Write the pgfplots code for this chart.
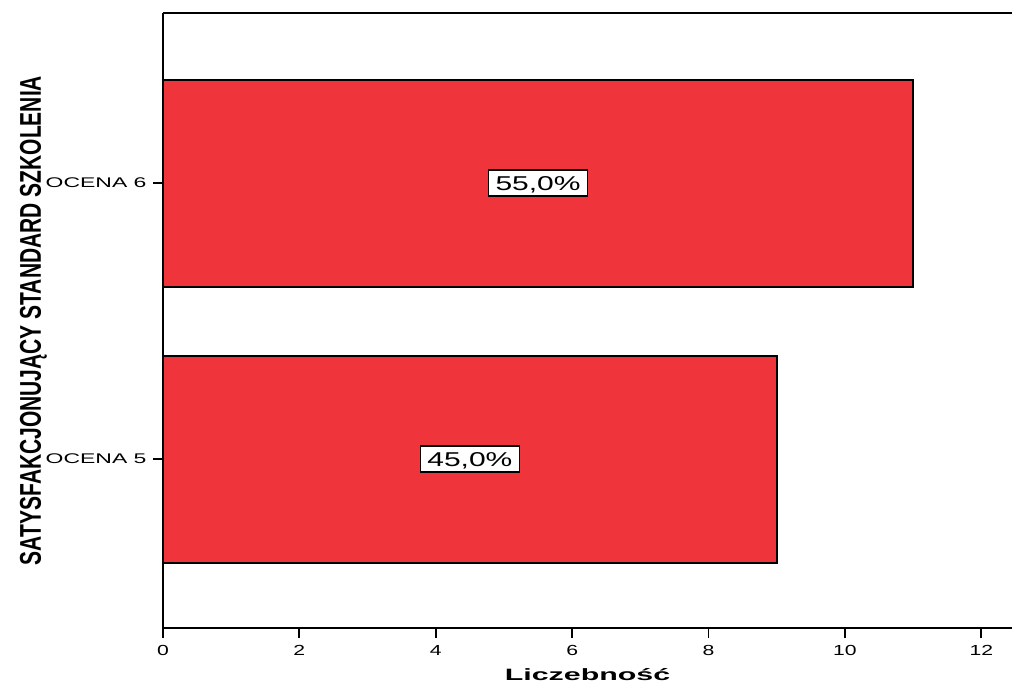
\documentclass[border=0pt]{standalone}
\usepackage{pgfplots}
\pgfplotsset{compat=1.18}
\usepackage{fontspec}
\setmainfont{Liberation Sans}
\newfontfamily\narrowfont[FakeStretch=0.7]{Liberation Sans}
\newfontfamily\tickfont[FakeStretch=1.45]{Liberation Sans}
\newfontfamily\ytickfont[FakeStretch=1.64]{Liberation Sans}
\newfontfamily\xlabfont[FakeStretch=1.85]{Liberation Sans}
\newfontfamily\pctfont[FakeStretch=1.5]{Liberation Sans}
\definecolor{barred}{RGB}{240,52,60}
\begin{document}
\begin{tikzpicture}
\begin{axis}[
  name=ax,
  scale only axis,
  width=424.5pt, height=307.5pt,
  xmin=0, xmax=12.45,
  ymin=-0.612, ymax=1.616,
  axis x line*=bottom, axis y line*=left,
  axis line style={line width=1pt, -},
  xtick={0,2,4,6,8,10,12},
  ytick={0,1},
  yticklabels={OCENA 5, OCENA 6},
  tick align=outside,
  tick style={line width=0.9pt, black},
  major tick length=5pt,
  /pgf/number format/assume math mode=true,
  xticklabel style={font=\tickfont\fontsize{7.3}{9}\selectfont},
  yticklabel style={font=\ytickfont\fontsize{7}{8}\selectfont, xshift=0.3pt},
  xlabel={\xlabfont\bfseries Liczebność},
  xlabel style={font=\fontsize{8.2}{10}\selectfont, yshift=0.5pt},
  ylabel={\narrowfont\bfseries SATYSFAKCJONUJĄCY STANDARD SZKOLENIA},
  ylabel style={font=\fontsize{15}{16}\selectfont, yshift=-7.5pt},
  clip=false,
]
\addplot[xbar, bar width=0.75, fill=barred, draw=black, line width=1pt]
  coordinates {(9,0) (11,1)};
\addplot[draw=none, mark=none, nodes near coords, point meta=explicit symbolic,
  nodes near coords style={anchor=center, fill=white, draw=black, line width=0.8pt,
    font=\pctfont\fontsize{10}{11}\selectfont, inner xsep=3.5pt, inner ysep=3pt,
    text height=7.2pt, text depth=0pt}]
  coordinates {(4.5,0) [45,0\%] (5.5,1) [55,0\%]};
\draw[line width=1pt] (rel axis cs:0,1) -- (rel axis cs:1,1);
\end{axis}
\pgfresetboundingbox
\path[use as bounding box] ([shift={(-81.5pt,-28.5pt)}]ax.south west) rectangle ([shift={(0pt,6.5pt)}]ax.north east);
\end{tikzpicture}
\end{document}
